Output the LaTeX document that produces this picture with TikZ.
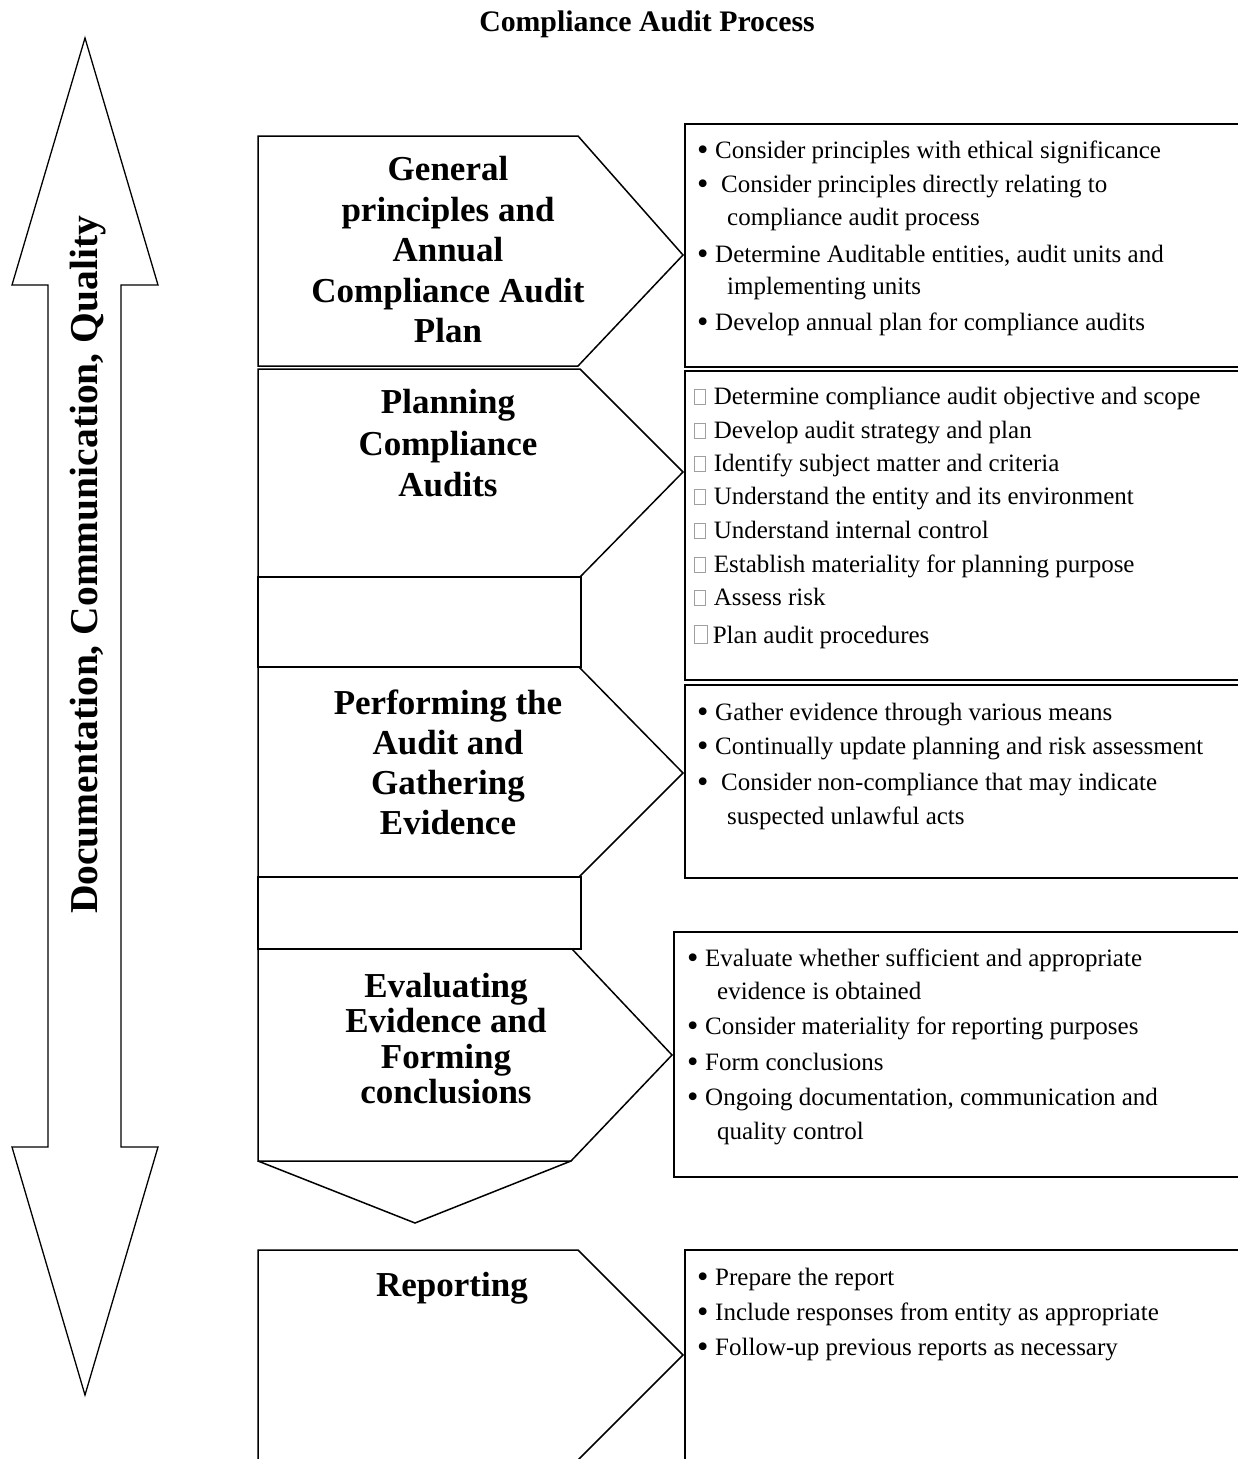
\documentclass[tikz,border=0pt]{standalone}
\usepackage{graphicx}
\usepackage{fontspec}
\setmainfont{Liberation Serif}
\newcommand\bul{\makebox[19pt][l]{\hspace{1pt}\raisebox{-2.6pt}{\scalebox{1.3}{\textbullet}}}}
\newcommand\gsq[2]{{\color{gray!75}\setlength\fboxrule{0.8pt}\setlength\fboxsep{0pt}\fbox{\rule{0pt}{#2}\hspace{#1}}}}
\begin{document}
\begin{tikzpicture}[x=1pt,y=-1pt,
  outline/.style={draw=black, line width=1.5pt, line join=miter},
  panel/.style={draw=black, line width=1.5pt},
  head/.style={font=\fontsize{35}{40}\selectfont\bfseries, anchor=base, inner sep=0pt},
  item/.style={font=\fontsize{25}{34}\selectfont, anchor=base west, inner sep=0pt}]
\useasboundingbox (0,0) rectangle (1238,1459);
\clip (0,0) rectangle (1238,1459);

% title
\node[font=\fontsize{29.8}{32}\selectfont\bfseries, anchor=base, inner sep=0pt] (title) at (647,31) {Compliance Audit Process};

% double-headed side arrow
\draw[outline, line width=1.3pt] (85,38) -- (158,285) -- (121,285) -- (121,1147) -- (158,1147) -- (85,1395)
  -- (12,1147) -- (48,1147) -- (48,285) -- (12,285) -- cycle;
\node[rotate=90, font=\fontsize{39.5}{44}\selectfont\bfseries, inner sep=0pt] (side) at (88,565) {Documentation, Communication, Quality};

% process stages
\draw[outline] (258,136) -- (578,136) -- (683,255) -- (578,366) -- (258,366) -- cycle;
\draw[outline] (258,369) -- (580,369) -- (683,472) -- (580,577) -- (258,577) -- cycle;
\draw[outline] (258,577) rectangle (581,667);
\draw[outline] (258,667) -- (579,667) -- (683,773) -- (579,877) -- (258,877) -- cycle;
\draw[outline] (258,877) rectangle (581,949);
\draw[outline] (258,949) -- (572,949) -- (672,1055) -- (571,1161) -- (258,1161) -- cycle;
\draw[outline] (258,1161) -- (415,1223) -- (571,1161);
\draw[outline] (258,1475) -- (258,1250) -- (578,1250) -- (683,1355) -- (563,1475);

% stage titles
\node[head] (g1) at (448,180) {General};
\node[head] (g2) at (448,221) {principles and};
\node[head] (g3) at (448,261) {Annual};
\node[head] (g4) at (448,302) {Compliance Audit};
\node[head] (g5) at (448,342) {Plan};
\node[head] (p1) at (448,413) {Planning};
\node[head] (p2) at (448,455) {Compliance};
\node[head] (p3) at (448,496) {Audits};
\node[head] (f1) at (448,714) {Performing the};
\node[head] (f2) at (448,754) {Audit and};
\node[head] (f3) at (448,794) {Gathering};
\node[head] (f4) at (448,834) {Evidence};
\node[head] (e1) at (446,997) {Evaluating};
\node[head] (e2) at (446,1032) {Evidence and};
\node[head] (e3) at (446,1068) {Forming};
\node[head] (e4) at (446,1103) {conclusions};
\node[head] (r1) at (452,1296) {Reporting};

% detail panels
\draw[panel] (685,124) rectangle (1250,367);
\draw[panel] (685,371) rectangle (1250,680);
\draw[panel] (685,685) rectangle (1250,878);
\draw[panel] (674,932) rectangle (1250,1177);
\draw[panel] (685,1250) rectangle (1250,1475);

% panel 1
\node[item] (a1) at (696,158) {\bul Consider principles with ethical significance};
\node[item] (a2) at (696,192) {\bul\hspace{6pt}Consider principles directly relating to};
\node[item] (a3) at (727,225) {compliance audit process};
\node[item] (a4) at (696,262) {\bul Determine Auditable entities, audit units and};
\node[item] (a5) at (727,294) {implementing units};
\node[item] (a6) at (696,330) {\bul Develop annual plan for compliance audits};

% panel 2
\node[item] (b1) at (694,404) {\gsq{10pt}{14pt}\hspace{8pt}Determine compliance audit objective and scope};
\node[item] (b2) at (694,438) {\gsq{10pt}{14pt}\hspace{8pt}Develop audit strategy and plan};
\node[item] (b3) at (694,471) {\gsq{10pt}{14pt}\hspace{8pt}Identify subject matter and criteria};
\node[item] (b4) at (694,504) {\gsq{10pt}{14pt}\hspace{8pt}Understand the entity and its environment};
\node[item] (b5) at (694,538) {\gsq{10pt}{14pt}\hspace{8pt}Understand internal control};
\node[item] (b6) at (694,572) {\gsq{10pt}{14pt}\hspace{8pt}Establish materiality for planning purpose};
\node[item] (b7) at (694,605) {\gsq{10pt}{14pt}\hspace{8pt}Assess risk};
\node[item] (b8) at (694,643) {\gsq{12pt}{17pt}\hspace{5pt}Plan audit procedures};

% panel 3
\node[item] (c1) at (696,720) {\bul Gather evidence through various means};
\node[item] (c2) at (696,754) {\bul Continually update planning and risk assessment};
\node[item] (c3) at (696,790) {\bul\hspace{6pt}Consider non-compliance that may indicate};
\node[item] (c4) at (727,824) {suspected unlawful acts};

% panel 4
\node[item] (d1) at (686,966) {\bul Evaluate whether sufficient and appropriate};
\node[item] (d2) at (717,999) {evidence is obtained};
\node[item] (d3) at (686,1034) {\bul Consider materiality for reporting purposes};
\node[item] (d4) at (686,1070) {\bul Form conclusions};
\node[item] (d5) at (686,1105) {\bul Ongoing documentation, communication and};
\node[item] (d6) at (717,1139) {quality control};

% panel 5
\node[item] (e5) at (696,1285) {\bul Prepare the report};
\node[item] (e6) at (696,1320) {\bul Include responses from entity as appropriate};
\node[item] (e7) at (696,1355) {\bul Follow-up previous reports as necessary};
\end{tikzpicture}
\end{document}
